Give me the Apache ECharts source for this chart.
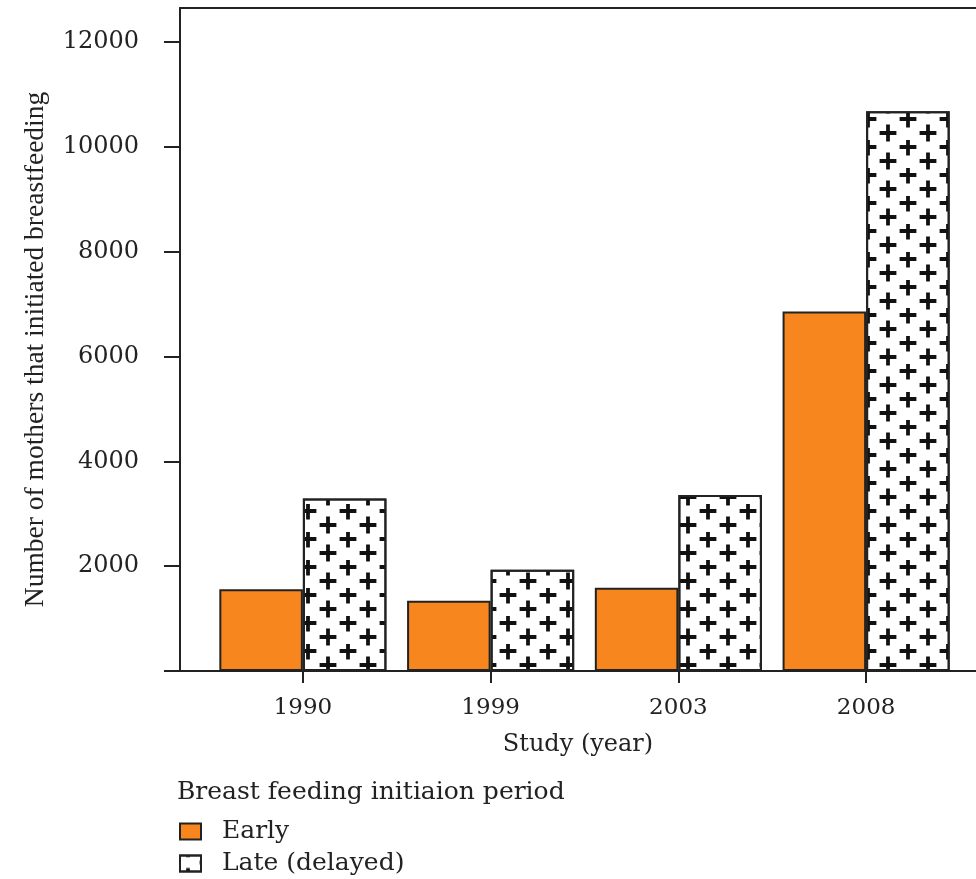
<!DOCTYPE html>
<html><head><meta charset="utf-8">
<script src="https://cdn.jsdelivr.net/npm/echarts@6/dist/echarts.min.js"></script>
<style>html,body{margin:0;padding:0;background:#fff}#c{width:976px;height:879px}</style>
</head><body><div id="c"></div>
<script>
const categories = ['1990', '1999', '2003', '2008'];
const earlyValues = [1560, 1340, 1590, 6860];
const lateValues = [3290, 1930, 3360, 10680];
const yTickValues = [0, 2000, 4000, 6000, 8000, 10000, 12000];
const yLabelValues = [2000, 4000, 6000, 8000, 10000, 12000];
const seriesNames = ['Early', 'Late (delayed)'];
const legendTitle = 'Breast feeding initiaion period';
const xName = 'Study (year)';
const yName = 'Number of mothers that initiated breastfeeding';

const SERIF = 'DejaVu Serif';
const INK = '#222';
const plusPath = 'path://M6.2,0H9.8V6.2H16V9.8H9.8V16H6.2V9.8H0V6.2H6.2Z';
const yMax = 12650;

const chart = echarts.init(document.getElementById('c'), null, {renderer: 'canvas'});
const option = {
  animation: false,
  backgroundColor: '#fff',
  title: {
    text: legendTitle, left: 177, top: 780, padding: 0,
    textStyle: {fontFamily: SERIF, fontSize: 25, fontWeight: 'normal', color: INK}
  },
  legend: {
    orient: 'vertical', left: 179, top: 819, padding: 0,
    itemWidth: 21, itemHeight: 16, itemGap: 7, icon: 'rect',
    data: seriesNames,
    textStyle: {fontFamily: SERIF, fontSize: 25, color: INK, lineHeight: 25, padding: [0, 0, 0, 16]}
  },
  grid: [
    {left: 180, right: 0, top: 8, bottom: 208},
    {left: 209, right: 16, top: 8, bottom: 208}
  ],
  xAxis: [
    {gridIndex: 0, type: 'value', position: 'bottom', min: 0, max: 1,
     axisLine: {show: true, onZero: false, lineStyle: {color: INK, width: 2}},
     axisTick: {show: false}, axisLabel: {show: false}, splitLine: {show: false},
     name: xName, nameLocation: 'middle', nameGap: 62,
     nameTextStyle: {fontFamily: SERIF, fontSize: 24, color: INK}},
    {gridIndex: 0, type: 'value', position: 'top', min: 0, max: 1,
     axisLine: {show: true, onZero: false, lineStyle: {color: INK, width: 2}},
     axisTick: {show: false}, axisLabel: {show: false}, splitLine: {show: false}},
    {gridIndex: 1, type: 'category', data: categories, position: 'bottom',
     axisLine: {show: false},
     axisTick: {show: true, alignWithLabel: true, length: 12, lineStyle: {color: INK, width: 2}},
     axisLabel: {margin: 26, fontFamily: SERIF, fontSize: 23, color: INK}}
  ],
  yAxis: [
    {gridIndex: 0, type: 'value', min: 0, max: yMax, interval: 2000,
     axisLine: {show: true, onZero: false, lineStyle: {color: INK, width: 2}},
     axisTick: {show: true, length: 16, customValues: yTickValues, lineStyle: {color: INK, width: 2}},
     axisLabel: {customValues: yLabelValues, margin: 41, fontFamily: SERIF, fontSize: 24, color: INK,
                 formatter: function (v) { return String(v); }},
     splitLine: {show: false},
     name: yName, nameLocation: 'middle', nameGap: 130,
     nameTextStyle: {fontFamily: 'Liberation Serif', fontSize: 27.5, color: INK, padding: [0, 20, 0, 0]}},
    {gridIndex: 1, type: 'value', min: 0, max: yMax, show: false, splitLine: {show: false}}
  ],
  series: [
    {name: seriesNames[0], type: 'bar', xAxisIndex: 2, yAxisIndex: 1, data: earlyValues,
     barGap: '0%', barCategoryGap: '11%',
     itemStyle: {color: '#F8861E', borderColor: INK, borderWidth: 2}},
    {name: seriesNames[1], type: 'bar', xAxisIndex: 2, yAxisIndex: 1, data: lateValues,
     barGap: '0%', barCategoryGap: '11%',
     itemStyle: {color: '#fff', borderColor: INK, borderWidth: 2,
       decal: {symbol: plusPath, symbolSize: 1.2, color: '#111',
               dashArrayX: [[16, 23.5], [0, 19.5, 16, 4]], dashArrayY: [13.3, 0]}}}
  ]
};
chart.setOption(option);
</script></body></html>
